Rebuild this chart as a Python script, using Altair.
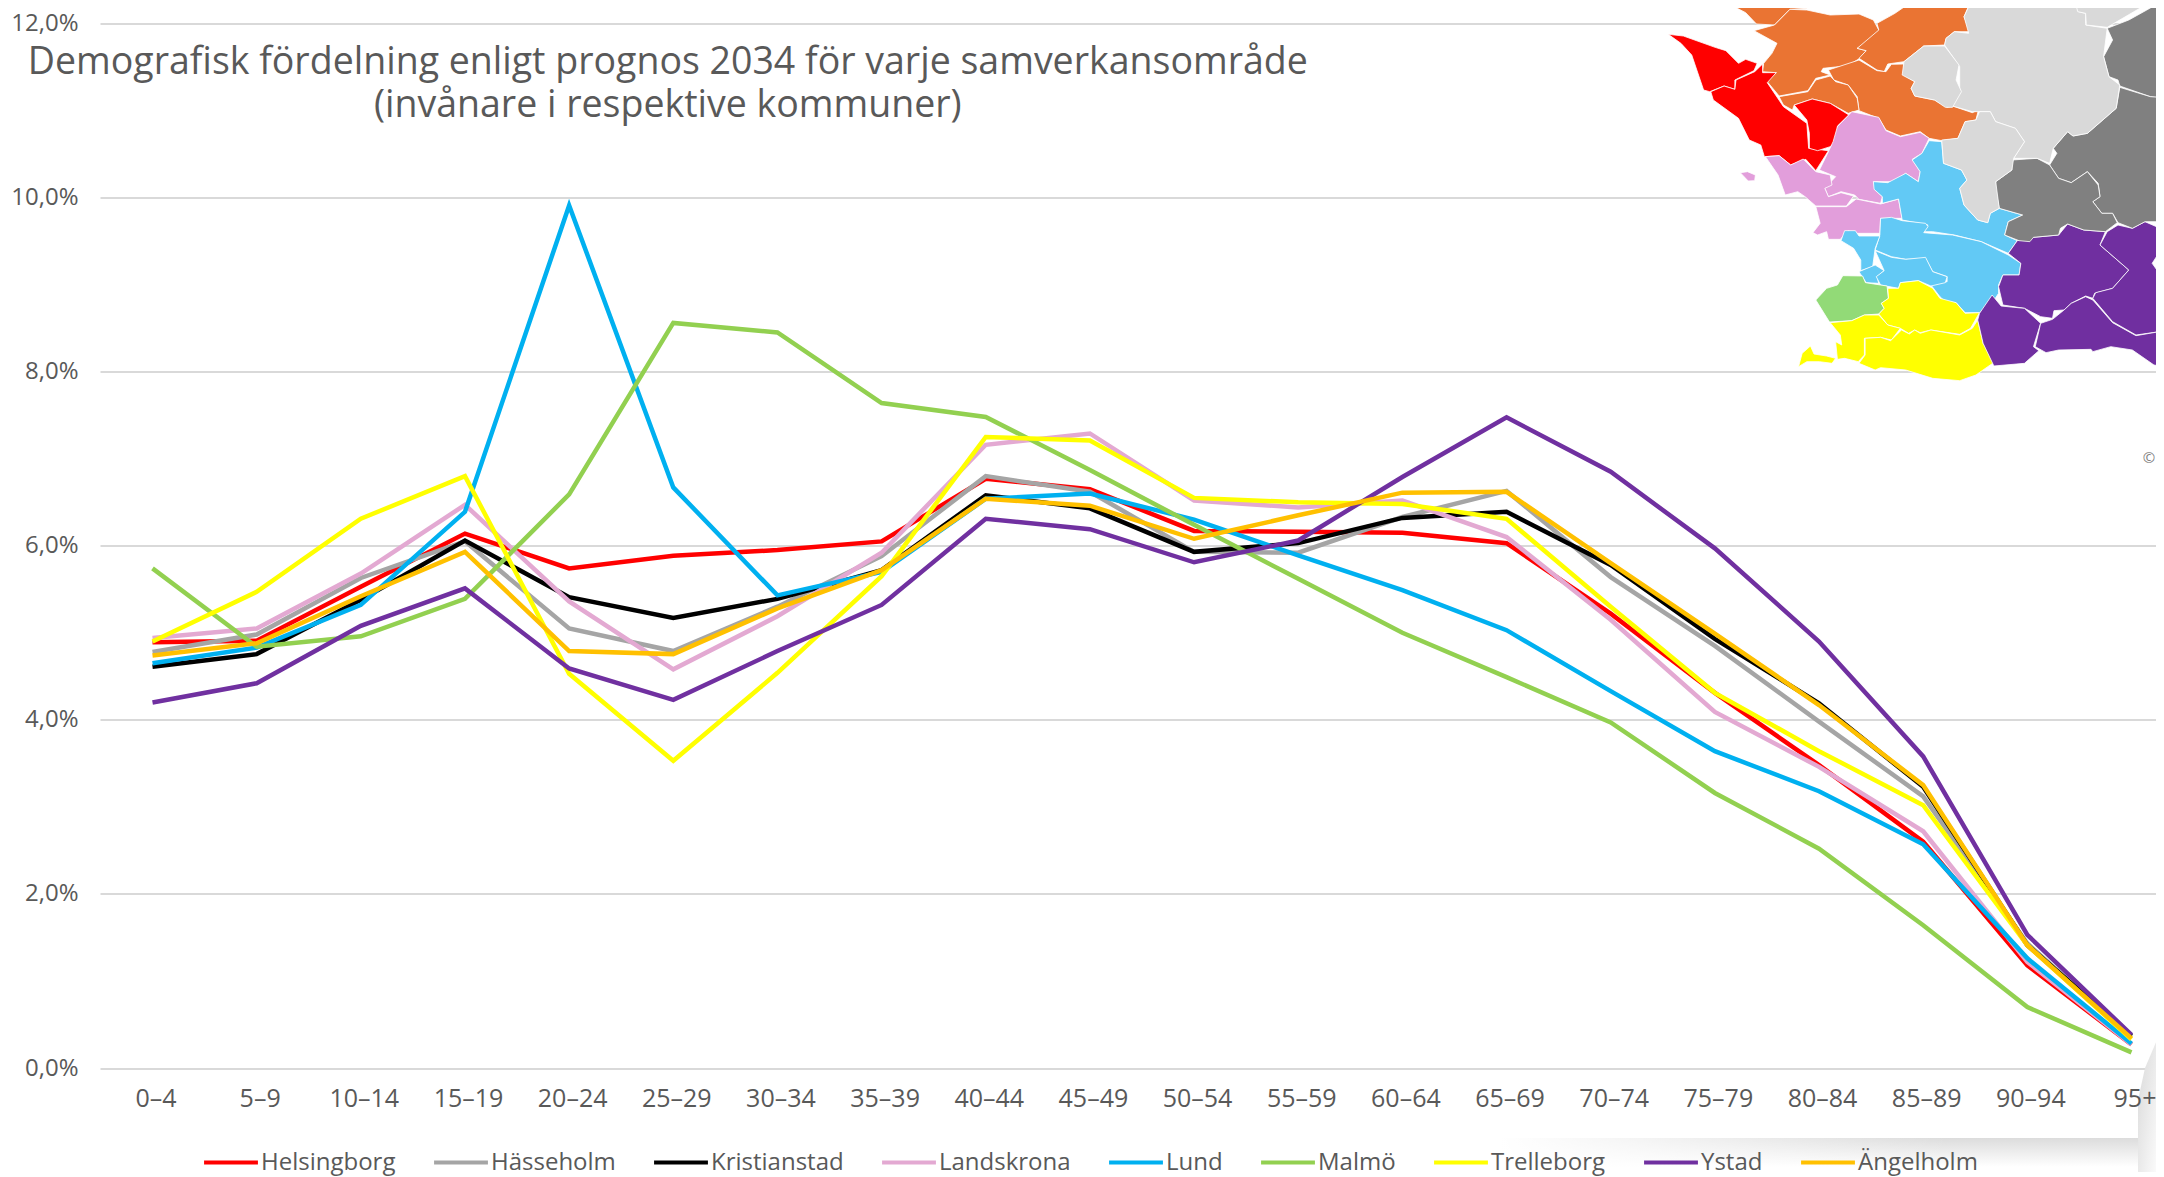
import altair as alt
import pandas as pd

AGES = ["0–4","5–9","10–14","15–19","20–24","25–29","30–34","35–39","40–44","45–49","50–54","55–59","60–64","65–69","70–74","75–79","80–84","85–89","90–94","95+"]
NAMES = ["Helsingborg","Hässeholm","Kristianstad","Landskrona","Lund","Malmö","Trelleborg","Ystad","Ängelholm"]
COLORS = ["#FF0000","#A5A5A5","#000000","#E3A9D2","#00B0F0","#92D050","#FFFF00","#7030A0","#FFC000"]
helsingborg = [4.89,4.91,5.53,6.14,5.74,5.885,5.95,6.05,6.77,6.65,6.17,6.16,6.15,6.03,5.22,4.31,3.48,2.60,1.18,0.27]
hasseholm = [4.78,4.98,5.63,6.05,5.05,4.79,5.30,5.88,6.80,6.62,5.93,5.92,6.33,6.63,5.64,4.85,3.98,3.12,1.43,0.36]
kristianstad = [4.61,4.755,5.38,6.06,5.41,5.17,5.39,5.72,6.58,6.43,5.93,6.03,6.32,6.39,5.78,4.93,4.19,3.23,1.41,0.37]
landskrona = [4.94,5.05,5.68,6.47,5.36,4.58,5.19,5.92,7.16,7.29,6.52,6.44,6.52,6.10,5.15,4.09,3.46,2.72,1.22,0.27]
lund = [4.65,4.83,5.32,6.39,9.91,6.67,5.43,5.70,6.54,6.60,6.30,5.89,5.49,5.03,4.33,3.64,3.18,2.57,1.26,0.28]
malmo = [5.74,4.84,4.96,5.39,6.59,8.56,8.45,7.64,7.48,6.87,6.24,5.62,5.00,4.49,3.97,3.16,2.52,1.64,0.70,0.18]
trelleborg = [4.90,5.47,6.31,6.80,4.53,3.53,4.54,5.65,7.25,7.21,6.55,6.50,6.48,6.31,5.30,4.31,3.64,3.02,1.41,0.33]
ystad = [4.20,4.42,5.08,5.51,4.59,4.23,4.79,5.32,6.31,6.19,5.81,6.06,6.79,7.475,6.85,5.97,4.90,3.58,1.53,0.38]
angelholm = [4.74,4.88,5.42,5.93,4.79,4.755,5.28,5.72,6.54,6.46,6.08,6.35,6.61,6.62,5.80,4.99,4.17,3.25,1.41,0.34]
SERIES = [helsingborg,hasseholm,kristianstad,landskrona,lund,malmo,trelleborg,ystad,angelholm]

TITLE = ["Demografisk fördelning enligt prognos 2034 för varje samverkansområde","(invånare i respektive kommuner)"]
FONT = "Open Sans"
TEXT = "#595959"

# Map regions outlined in map-image coordinates
ORANGE = [
 [(320,0),(585,0),(575,25),(528,28),(485,75),(435,72),(405,38),(355,10)],
 [(528,28),(575,30),(640,45),(720,42),(760,60),(775,90),(760,115),(715,145),(740,152),(722,175),(690,197),(620,205),(615,215),(640,225),(600,235),(578,272),(498,288),(465,245),(490,218),(452,215),(455,190),(478,160),(492,130),(428,92),(485,75)],
 [(860,10),(890,0),(1060,0),(1022,25),(1012,50),(1028,95),(985,95),(962,115),(958,135),(900,138),(845,185),(800,192),(790,215),(770,210),(720,175),(740,152),(715,145),(775,90),(770,70),(820,40)],
 [(635,210),(720,180),(770,212),(795,215),(810,193),(845,192),(845,225),(875,245),(865,265),(875,288),(930,300),(965,322),(980,318),(1035,338),(1052,330),(1045,360),(1015,365),(995,415),(950,422),(915,415),(890,395),(835,408),(795,390),(775,355),(720,332),(715,290),(690,255),(650,240)],
 [(498,290),(578,275),(600,240),(640,228),(655,245),(690,255),(715,295),(720,330),(690,340),(640,310),(590,297),(540,315),(535,330),(510,315)],
]
RED = [
 [(190,103),(232,108),(320,142),(350,152),(385,190),(405,178),(437,190),(428,212),(375,240),(375,268),(345,258),(305,275),(288,270),(255,165),(225,130)],
 [(452,192),(452,218),(490,218),(465,248),(510,320),(575,370),(580,445),(635,452),(600,512),(572,478),(530,495),(498,467),(457,470),(447,435),(415,420),(385,355),(315,300),(308,275),(345,258),(375,268),(378,240),(430,215)],
 [(540,315),(590,297),(640,310),(692,345),(660,378),(660,420),(640,440),(605,452),(582,445),(582,400),(575,360)],
]
PINK = [
 [(700,335),(775,352),(795,392),(835,410),(890,397),(915,415),(895,460),(868,478),(890,515),(885,545),(850,520),(815,545),(760,545),(765,570),(785,590),(780,610),(720,598),(708,585),(670,575),(635,590),(625,565),(655,530),(610,510),(635,455),(648,425),(660,380)],
 [(460,470),(498,467),(530,495),(565,477),(600,515),(640,525),(645,555),(625,565),(635,590),(670,578),(705,588),(685,618),(600,618),(570,590),(550,575),(515,585),(495,525)],
 [(600,620),(685,620),(712,597),(780,612),(830,597),(840,655),(780,655),(778,700),(710,700),(690,692),(668,718),(635,718),(630,695),(605,705),(592,698),(612,670)],
 [(390,518),(410,515),(432,525),(430,542),(412,543)],
]
BLUE = [
 [(915,422),(950,425),(955,490),(1005,510),(1020,540),(1000,565),(1012,615),(1050,660),(1078,668),(1085,640),(1110,625),(1175,645),(1135,665),(1125,705),(1160,722),(1135,760),(1060,725),(985,705),(925,695),(900,695),(912,675),(840,660),(830,597),(785,610),(785,590),(762,568),(760,545),(800,548),(850,520),(885,545),(890,515),(868,480),(895,460)],
 [(780,655),(810,652),(840,662),(905,670),(912,680),(900,698),(980,705),(1060,725),(1135,765),(1170,790),(1165,825),(1120,825),(1108,855),(1108,880),(1090,910),(1055,938),(1015,938),(990,908),(960,905),(945,890),(920,855),(965,845),(965,830),(925,815),(905,775),(850,778),(810,770),(765,750),(778,705)],
 [(680,692),(710,692),(720,708),(778,708),(765,745),(758,800),(725,812),(725,780),(705,745),(670,722)],
 [(720,815),(765,795),(790,812),(770,830),(775,850),(740,848)],
 [(765,752),(810,772),(850,778),(905,772),(925,815),(965,830),(960,848),(920,858),(885,842),(835,848),(830,865),(780,855),(768,830),(790,812)],
]
GREEN = [
 [(675,827),(730,828),(738,848),(798,858),(802,895),(782,910),(790,925),(775,942),(735,945),(700,962),(638,966),(600,900),(630,865),(660,855)],
]
YELLOW = [
 [(800,865),(830,865),(835,848),(885,842),(925,865),(945,895),(990,908),(1015,940),(1055,938),(1030,985),(1000,1003),(920,990),(890,998),(875,990),(858,1000),(835,985),(800,975),(775,942),(790,925),(782,910),(802,895)],
 [(640,968),(700,962),(735,945),(775,945),(800,975),(835,985),(810,1020),(780,1012),(735,1015),(735,1065),(718,1085),(680,1075),(660,1078),(655,1025),(672,1035),(668,1005)],
 [(737,1015),(780,1012),(808,1022),(838,990),(860,1002),(875,990),(890,1000),(920,990),(1000,1005),(1035,985),(1050,960),(1065,1030),(1098,1085),(1045,1125),(1000,1142),(925,1135),(850,1110),(780,1103),(765,1110),(720,1090),(737,1065)],
 [(552,1100),(562,1060),(585,1038),(595,1062),(630,1068),(655,1075),(645,1090),(610,1085),(575,1085)],
]
PURPLE = [
 [(1160,722),(1205,712),(1275,705),(1300,672),(1345,690),(1405,695),(1390,735),(1470,810),(1425,865),(1375,880),(1370,895),(1350,888),(1310,910),(1290,930),(1262,932),(1258,955),(1225,950),(1180,925),(1120,915),(1108,860),(1120,825),(1165,825),(1170,790),(1135,760)],
 [(1410,695),(1440,675),(1480,685),(1515,665),(1568,690),(1568,735),(1535,790),(1568,840),(1568,985),(1555,995),(1490,1005),(1425,965),(1370,895),(1378,878),(1425,865),(1470,810),(1390,735)],
 [(1090,885),(1115,918),(1180,925),(1225,970),(1205,1040),(1220,1052),(1180,1090),(1095,1098),(1065,1030),(1050,960),(1055,940)],
 [(1350,890),(1370,900),(1425,968),(1490,1007),(1555,995),(1568,985),(1568,1100),(1540,1095),(1480,1050),(1420,1040),(1370,1055),(1365,1048),(1275,1050),(1240,1058),(1210,1040),(1225,970),(1258,958),(1290,930),(1310,910)],
]
DARKGRAY = [
 [(1410,85),(1470,60),(1520,30),(1568,0),(1568,295),(1530,290),(1445,258),(1440,240),(1415,230),(1400,170),(1425,120)],
 [(1445,262),(1530,290),(1555,292),(1568,262),(1568,665),(1515,665),(1480,685),(1440,668),(1425,640),(1395,640),(1370,605),(1390,590),(1385,550),(1355,515),(1310,548),(1275,535),(1250,495),(1270,460),(1260,445),(1300,395),(1315,408),(1355,400),(1435,325)],
 [(1145,480),(1215,475),(1250,495),(1275,535),(1310,548),(1355,515),(1385,555),(1390,590),(1370,605),(1395,640),(1425,640),(1438,668),(1405,695),(1345,690),(1300,672),(1280,685),(1275,705),(1205,712),(1195,725),(1165,722),(1125,705),(1135,665),(1175,645),(1110,625),(1100,570),(1100,545),(1145,510)],
]
LIGHTGRAY = [
 [(1065,0),(1320,0),(1330,35),(1350,40),(1350,75),(1410,85),(1400,170),(1415,230),(1445,255),(1435,325),(1355,400),(1315,408),(1300,395),(1260,445),(1250,490),(1215,475),(1150,475),(1180,425),(1155,385),(1100,365),(1085,335),(1035,335),(980,318),(1000,280),(1000,200),(958,135),(962,115),(985,95),(1025,100),(1012,50),(1025,20)],
 [(1320,0),(1540,0),(1410,82),(1352,75),(1350,40),(1328,35)],
 [(900,138),(958,138),(998,195),(990,240),(1005,275),(980,322),(960,322),(930,300),(875,288),(865,265),(875,245),(840,225),(845,185)],
 [(1055,335),(1085,335),(1100,365),(1155,385),(1180,425),(1150,475),(1145,510),(1100,545),(1110,625),(1085,640),(1078,668),(1050,660),(1012,615),(1000,565),(1020,540),(1005,510),(955,490),(950,420),(995,415),(1015,365),(1045,360)],
]
MAP_REGIONS = [("#EA7433",ORANGE),("#FF0000",RED),("#E29EDB",PINK),("#62C9F5",BLUE),("#92DA77",GREEN),("#FFFF00",YELLOW),("#702FA0",PURPLE),("#808080",DARKGRAY),("#D9D9D9",LIGHTGRAY)]

# The soft shadow of the card behind the chart (page pixels)
SHADOW_BELOW = [(1500,1138),(2138,1138),(2138,1172),(1500,1172)]
SHADOW_FADE = [(1500,1138),(1950,1138),(1950,1172),(1500,1172)]
SHADOW_RIGHT = [(2138,1138),(2138,1100),(2145,1068),(2157,1040),(2164,1025),(2164,1172),(2138,1172)]

PAD_LEFT, PAD_TOP = 92, 15.5
PLOT_W, PLOT_H = 2056, 1044.5

def page_feature(ring_points):
    ring = [[x - 100, y - 23.5] for x, y in ring_points]
    ring.append(ring[0])
    return {"type": "Feature", "geometry": {"type": "Polygon", "coordinates": [ring]}}

def map_feature(points, colour):
    f = page_feature([(1600 + x / 2.78, y / 3) for x, y in points])
    f["properties"] = {"colour": colour}
    return f

IDENTITY = dict(type="identity", scale=1, translate=[0, 0])

features = [map_feature(p, c) for c, polys in MAP_REGIONS for p in polys]
map_layer = (
    alt.Chart(alt.Data(values=features))
    .mark_geoshape(stroke="white", strokeWidth=0.8, clip=False)
    .encode(color=alt.Color("properties.colour:N", scale=None, legend=None))
    .project(**IDENTITY)
)

def shadow(points, c0, c1, x1, y1, x2, y2):
    grad = alt.LinearGradient(gradient="linear", x1=x1, y1=y1, x2=x2, y2=y2,
                              stops=[alt.GradientStop(offset=0, color=c0),
                                     alt.GradientStop(offset=1, color=c1)])
    return alt.Chart(alt.Data(values=[page_feature(points)])).mark_geoshape(
        fill=grad, stroke=None, strokeWidth=0, clip=False).project(**IDENTITY)

shadow_below = shadow(SHADOW_BELOW, "#DCDCDC", "#FFFFFF", 0, 0, 0, 0.85)
shadow_fade = shadow(SHADOW_FADE, "#FFFFFF", "rgba(255,255,255,0)", 0, 0, 1, 0)
shadow_right = shadow(SHADOW_RIGHT, "#DCDCDC", "#FFFFFF", 0, 0.3, 0.9, 1)

rows = [{"age": a, "name": n, "value": v / 100, "idx": i}
        for n, s in zip(NAMES, SERIES) for i, (a, v) in enumerate(zip(AGES, s))]
df = pd.DataFrame(rows)

x = alt.X("age:N", sort=AGES, title=None,
          scale=alt.Scale(type="point", domain=AGES, padding=0.3697, align=0.6818),
          axis=alt.Axis(labelAngle=0, labelFont=FONT, labelFontSize=25, labelColor=TEXT, zindex=1,
                        labelOffset=3, labelPadding=18, domain=False, ticks=False, grid=False, labelFlush=False, labelOverlap=False))
y = alt.Y("value:Q", title=None,
          scale=alt.Scale(domain=[0, 0.12], nice=False),
          axis=alt.Axis(values=[0, .02, .04, .06, .08, .1, .12], labelExpr="replace(format(datum.value, '.1%'), '.', ',')",
                        labelFont=FONT, labelFontSize=24, labelColor=TEXT, labelPadding=22,
                        domain=False, ticks=False, grid=True, gridColor="#D9D9D9", gridWidth=2))
color = alt.Color("name:N", sort=NAMES, scale=alt.Scale(domain=NAMES, range=COLORS),
                  legend=alt.Legend(title=None, orient="none", legendX=102, legendY=1110, direction="horizontal",
                                    columns=9, symbolType="stroke", symbolSize=2900, symbolStrokeWidth=4,
                                    labelFont=FONT, labelFontSize=24, labelColor=TEXT, labelOffset=1,
                                    columnPadding=30, labelLimit=300, padding=0))
lines = alt.Chart(df).mark_line(strokeWidth=4.5, strokeJoin="miter").encode(x=x, y=y, color=color, order="idx:Q")

copyright_mark = alt.Chart(pd.DataFrame({"t": ["©"]})).mark_text(
    font=FONT, fontSize=15, color="#7F7F7F", align="center", baseline="middle"
).encode(text="t:N", x=alt.value(2049), y=alt.value(434.5))

chart = (
    alt.layer(shadow_below, shadow_fade, shadow_right, lines, map_layer, copyright_mark)
    .properties(
        width=PLOT_W, height=PLOT_H,
        autosize=alt.AutoSizeParams(type="none"),
        padding={"left": PAD_LEFT, "top": PAD_TOP, "right": 0, "bottom": 108},
        title=alt.TitleParams(text=TITLE, anchor="start", align="center", dx=657, dy=126, offset=0,
                              font=FONT, fontSize=37.5, fontWeight="normal", color=TEXT, lineHeight=43),
    )
    .configure_view(stroke=None)
    .resolve_scale(color="independent")
)
chart.save("out.html", embed_options={"renderer": "svg", "actions": False})
